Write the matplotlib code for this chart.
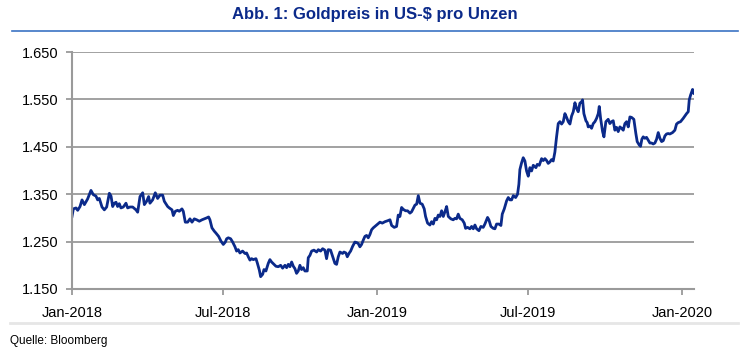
import matplotlib
matplotlib.use("Agg")
from matplotlib import pyplot as plt
from matplotlib.ticker import FuncFormatter
import matplotlib.dates as mdates
import pandas as pd

# days since 1 Jan 2018 and gold price (US-$ per ounce)
days = [0, 1.6, 4.8, 6.8, 9.6, 12, 14.8, 18.7, 22.7, 25.5, 28.7, 30.7, 32.7, 35.9, 38.7,
        41.5, 44.7, 46.7, 48.7, 50.7, 52.7, 54.6, 56.6, 58.6, 61.4, 64.6, 66.6, 69.4, 72.6,
        76.6, 78.6, 81.4, 84.6, 86.6, 89.3, 91.7, 93.3, 96.5, 99.7, 102.5, 105.3, 108.5,
        110.5, 114.5, 116.5, 119.7, 121.3, 123.7, 126.4, 128.4, 131.6, 133.2, 135.6, 138.4,
        141.2, 143.6, 146.4, 149.2, 152.4, 155.6, 158.4, 161.2, 163.5, 165.1, 167.5, 170.3,
        172.3, 175.5, 178.3, 181.1, 183.5,
        185.1, 187.1, 189.9, 192.3, 195.1, 197.0, 199.0, 201.0, 204.2, 207.0, 209.0, 211.0,
        213.0, 215.0, 217.0, 220.2, 221.8, 224.2, 225.8, 228.2, 229.8, 232.1, 234.9, 236.9,
        238.9, 241.7, 244.1, 246.9, 249.7, 252.1, 254.9, 256.9, 258.9, 260.9, 262.9, 264.9,
        266.8, 268.8, 270.8, 272.8, 274.8, 276.8, 278.8, 281.6, 282.8, 284.8, 286.8, 289.6,
        292.8, 294.8, 297.6, 300.0, 302.7, 304.7, 306.7, 309.5, 311.9, 314.7, 316.7, 318.7,
        320.7, 323.9, 325.5, 327.9, 329.5, 331.9, 333.5, 335.9, 338.6, 340.6, 342.6, 344.6,
        346.6, 348.6, 350.6, 352.6, 354.6, 356.6, 358.6, 360.6,
        362.6, 365.8, 368.6, 371.4, 374.6, 377.8, 380.6, 382.6, 385.7, 388.5, 390.5, 392.5,
        394.5, 396.5, 399.3, 401.7, 404.5, 406.5, 408.5, 410.5, 412.5, 414.5, 416.5, 419.2,
        421.6, 423.2, 425.6, 428.4, 430.4, 432.4, 434.4, 436.4, 438.4, 440.4, 442.4, 444.4,
        446.4, 448.4, 450.4, 453.5, 456.3, 458.3, 460.3, 462.3, 464.3, 467.1, 469.5, 471.1,
        473.5, 476.3, 478.3, 480.3, 482.3, 484.3, 487.1, 489.4, 492.2, 494.2, 497.4, 499.0,
        501.4, 504.2, 506.2, 508.2, 511.0, 513.4, 515.0, 517.4, 520.2, 522.2, 524.2, 526.2,
        528.2, 531.0, 533.3, 534.9, 536.1, 538.1, 540.1, 542.1, 544.1, 546.1,
        548.1, 550.1, 552.1, 555.3, 556.9, 559.3, 562.1, 564.1, 566.1, 568.1, 570.0, 572.0,
        574.0, 576.0, 578.0, 580.0, 582.0, 584.0, 586.0, 588.0, 590.0, 592.0, 594.0, 596.0,
        598.0, 600.0, 602.0, 603.9, 605.9, 607.9, 609.9, 611.1, 612.7, 615.1, 616.7, 617.9,
        619.9, 621.9, 623.9, 625.9, 627.9, 629.9, 631.1, 632.7, 635.1, 636.7, 639.0, 641.8,
        643.8, 645.8, 647.8, 649.8, 651.8, 653.8, 655.8, 657.8, 659.8, 661.8, 663.8, 665.8,
        667.8, 669.8, 672.5, 674.9, 676.5, 678.9, 680.5, 682.1, 683.7, 685.7, 687.7, 689.7,
        691.7, 693.7, 695.7, 697.7, 699.7, 701.7, 703.7, 705.7, 707.7, 709.7, 711.6, 713.6,
        715.6, 718.8, 721.6, 723.6, 725.6, 728.4, 731.6, 733.6, 735.6, 737.6, 738.8, 740.4,
        742.8, 744.4]
prices = [1303, 1319, 1321, 1316, 1324, 1338, 1328, 1340, 1358, 1349, 1346, 1338, 1341, 1323, 1317,
          1323, 1352, 1346, 1324, 1331, 1333, 1324, 1330, 1321, 1323, 1331, 1321, 1323, 1323,
          1317, 1312, 1345, 1353, 1328, 1335, 1345, 1331, 1338, 1353, 1341, 1348, 1348,
          1335, 1324, 1321, 1317, 1305, 1314, 1316, 1314, 1319, 1314, 1291, 1291,
          1298, 1291, 1298, 1296, 1293, 1296, 1298, 1300, 1302, 1296, 1279, 1272,
          1268, 1261, 1251, 1244, 1249,
          1256, 1258, 1256, 1249, 1239, 1230, 1233, 1226, 1230, 1225, 1226, 1218,
          1211, 1214, 1212, 1214, 1205, 1190, 1176, 1181, 1191, 1188, 1204, 1212,
          1207, 1202, 1198, 1197, 1200, 1194, 1200, 1195, 1202, 1197, 1207, 1198,
          1193, 1183, 1188, 1200, 1191, 1195, 1188, 1188, 1216, 1221, 1230, 1232,
          1228, 1233, 1230, 1235, 1232, 1214, 1233, 1232, 1219, 1204, 1202, 1218,
          1228, 1225, 1228, 1226, 1218, 1226, 1230, 1240, 1249, 1248, 1246, 1239,
          1244, 1253, 1261, 1263, 1258, 1265, 1275, 1279,
          1282, 1287, 1291, 1289, 1292, 1294, 1296, 1284, 1280, 1282, 1306, 1303,
          1322, 1318, 1315, 1315, 1310, 1313, 1320, 1327, 1329, 1347, 1331, 1329,
          1319, 1303, 1289, 1285, 1292, 1287, 1299, 1296, 1306, 1303, 1315, 1303,
          1313, 1324, 1303, 1298, 1296, 1299, 1298, 1308, 1299, 1296, 1289, 1278,
          1280, 1277, 1282, 1277, 1285, 1277, 1273, 1282, 1280, 1287, 1301, 1296,
          1282, 1278, 1277, 1287, 1287, 1284, 1308, 1319, 1336, 1343, 1338, 1338,
          1347, 1343, 1350, 1371, 1402, 1416, 1427, 1420, 1399, 1388,
          1406, 1399, 1411, 1406, 1413, 1411, 1425, 1421, 1425, 1421, 1415, 1418,
          1423, 1420, 1439, 1471, 1499, 1503, 1498, 1503, 1520, 1512, 1503, 1498,
          1515, 1524, 1543, 1531, 1524, 1542, 1545, 1549, 1520, 1505, 1501, 1492,
          1494, 1489, 1499, 1503, 1510, 1520, 1535, 1510, 1482, 1471, 1503, 1508,
          1499, 1503, 1505, 1485, 1491, 1482, 1492, 1489, 1485, 1499, 1503, 1492,
          1513, 1512, 1508, 1478, 1461, 1454, 1451, 1466, 1471, 1468, 1470, 1464,
          1458, 1458, 1456, 1458, 1466, 1480, 1468, 1461, 1463, 1473, 1477, 1478,
          1477, 1480, 1485, 1498, 1501, 1503, 1510, 1515, 1520, 1524, 1549, 1559,
          1571, 1563]

tick_dates = ["2018-01-01", "2018-07-01", "2019-01-01", "2019-07-01", "2020-01-01"]
y_ticks = [1150, 1250, 1350, 1450, 1550, 1650]

title = "Abb. 1: Goldpreis in US-$ pro Unzen"
source = "Quelle: Bloomberg"

navy = "#0b2a8a"
grid_grey = "#9a9a9a"

plt.rcParams["font.family"] = ["Liberation Sans", "DejaVu Sans"]

start = pd.Timestamp("2018-01-01")
dates = start + pd.to_timedelta(days, unit="D")

fig = plt.figure(figsize=(7.5, 3.55), dpi=100)
ax = fig.add_axes([72 / 750, 1 - 289 / 355, 622 / 750, 237 / 355])

ax.plot(dates, prices, color=navy, linewidth=2.0, solid_joinstyle="round")

ax.set_ylim(1150, 1650)
ax.set_yticks(y_ticks)
ax.yaxis.set_major_formatter(FuncFormatter(lambda v, p: f"{int(v):,}".replace(",", ".")))
ax.set_xlim(start, start + pd.Timedelta(days=744.5))
ax.set_xticks(pd.to_datetime(tick_dates))
ax.xaxis.set_major_formatter(mdates.DateFormatter("%b-%Y"))

ax.grid(axis="y", color=grid_grey, linewidth=1.3)
ax.set_axisbelow(True)
for s in ["top", "right"]:
    ax.spines[s].set_visible(False)
for s in ["left", "bottom"]:
    ax.spines[s].set_color(grid_grey)
    ax.spines[s].set_linewidth(1.5)
ax.tick_params(axis="both", colors=grid_grey, length=4, width=1.3, labelsize=10.5,
               labelcolor="black")
ax.tick_params(axis="x", pad=8)
ax.tick_params(axis="y", pad=6)

# title with rule underneath
fig.text(0.5, 1 - 14 / 355, title, ha="center", va="center", fontsize=12,
         fontweight="bold", color=navy)
fig.add_artist(plt.Line2D([12 / 750, 738 / 750], [1 - 31 / 355] * 2, color="#3b73c4",
                          linewidth=1.2))

# source line
fig.add_artist(plt.Line2D([10 / 750, 738 / 750], [1 - 323 / 355] * 2, color="#e6e6e6",
                          linewidth=2))
fig.text(10 / 750, 1 - 341 / 355, source, ha="left", va="center", fontsize=8.5)

fig.savefig("out.png", dpi=100)
